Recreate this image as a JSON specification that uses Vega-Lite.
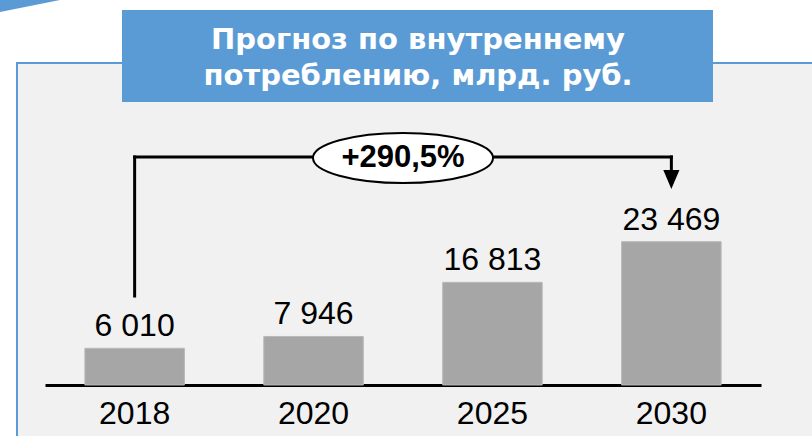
{
  "$schema": "https://vega.github.io/schema/vega-lite/v6.json",
  "width": 795,
  "height": 373,
  "autosize": "none",
  "padding": {"left": 17, "top": 63, "right": 0, "bottom": 0},
  "background": "#ffffff",
  "config": {
    "view": {"fill": "#f1f1f1", "stroke": null},
    "font": "Liberation Sans"
  },
  "datasets": {
    "main": [
      {"year": "2018", "value": 6010, "label": "6 010"},
      {"year": "2020", "value": 7946, "label": "7 946"},
      {"year": "2025", "value": 16813, "label": "16 813"},
      {"year": "2030", "value": 23469, "label": "23 469"}
    ],
    "growth": [
      {"from": "2018", "to": "2030", "label": "+290,5%"}
    ],
    "heading": [
      {"text": "Прогноз по внутреннему\nпотреблению, млрд. руб."}
    ]
  },
  "layer": [
    {
      "data": {"name": "heading"},
      "mark": {"type": "rule", "color": "#5b9bd5", "strokeWidth": 2},
      "encoding": {"x": {"value": -1}, "x2": {"value": 800}, "y": {"value": 0}}
    },
    {
      "data": {"name": "heading"},
      "mark": {"type": "rule", "color": "#5b9bd5", "strokeWidth": 2},
      "encoding": {"x": {"value": 0}, "y": {"value": -1}, "y2": {"value": 380}}
    },
    {
      "data": {"name": "heading"},
      "mark": {"type": "point", "shape": "M-1,-0.2L1,-0.2L-1,0.2Z", "filled": true, "color": "#5b9bd5", "size": 3600, "opacity": 1, "strokeWidth": 0},
      "encoding": {"x": {"value": 13}, "y": {"value": -57}}
    },
    {
      "data": {"name": "heading"},
      "mark": {"type": "rect", "color": "#5b9bd5"},
      "encoding": {"x": {"value": 105}, "x2": {"value": 696}, "y": {"value": -53}, "y2": {"value": 39}}
    },
    {
      "data": {"name": "heading"},
      "mark": {"type": "text", "font": "DejaVu Sans", "fontWeight": "bold", "fontSize": 29, "color": "#ffffff", "align": "center", "baseline": "alphabetic", "lineBreak": "\n", "lineHeight": 35.7},
      "encoding": {"text": {"field": "text"}, "x": {"value": 401}, "y": {"value": -13.7}}
    },
    {
      "data": {"name": "main"},
      "mark": {"type": "bar", "color": "#a6a6a6", "stroke": "#b8b8b8", "strokeWidth": 1},
      "encoding": {
        "x": {
          "field": "year", "type": "nominal", "sort": null,
          "scale": {"range": [28, 744], "paddingInner": 0.444, "paddingOuter": 0.223},
          "axis": {"title": null, "labelAngle": 0, "labelFontSize": 32, "labelFont": "Liberation Sans", "labelColor": "#000000", "ticks": false, "domainColor": "#000000", "domainWidth": 3, "labelPadding": 13, "offset": -51, "grid": false}
        },
        "y": {
          "field": "value", "type": "quantitative",
          "scale": {"domain": [0, 52735], "range": [322, 0], "nice": false, "zero": true},
          "axis": null
        }
      }
    },
    {
      "data": {"name": "main"},
      "mark": {"type": "text", "fontSize": 32, "font": "Liberation Sans", "color": "#000000", "baseline": "alphabetic", "dy": -12},
      "encoding": {
        "x": {"field": "year", "type": "nominal", "sort": null},
        "y": {"field": "value", "type": "quantitative"},
        "text": {"field": "label"}
      }
    },
    {
      "data": {"name": "growth"},
      "mark": {"type": "rule", "color": "#000000", "strokeWidth": 3, "strokeCap": "square"},
      "encoding": {"x": {"field": "from", "type": "nominal"}, "y": {"value": 94}, "y2": {"value": 233}}
    },
    {
      "data": {"name": "growth"},
      "mark": {"type": "rule", "color": "#000000", "strokeWidth": 3, "strokeCap": "square"},
      "encoding": {"x": {"field": "from", "type": "nominal"}, "x2": {"field": "to"}, "y": {"value": 94}}
    },
    {
      "data": {"name": "growth"},
      "mark": {"type": "rule", "color": "#000000", "strokeWidth": 3, "strokeCap": "square"},
      "encoding": {"x": {"field": "to", "type": "nominal"}, "y": {"value": 94}, "y2": {"value": 108}}
    },
    {
      "data": {"name": "growth"},
      "mark": {"type": "point", "shape": "M-0.85,-1L0.85,-1L0,1Z", "filled": true, "color": "#000000", "size": 361, "opacity": 1, "strokeWidth": 0},
      "encoding": {"x": {"field": "to", "type": "nominal"}, "y": {"value": 116.5}}
    },
    {
      "data": {"name": "growth"},
      "mark": {"type": "point", "shape": "M-1,0A1,0.278,0,1,0,1,0A1,0.278,0,1,0,-1,0Z", "filled": true, "fill": "#ffffff", "stroke": "#000000", "strokeWidth": 2, "size": 32400, "opacity": 1, "fillOpacity": 1, "strokeOpacity": 1},
      "encoding": {"x": {"value": 386}, "y": {"value": 95}}
    },
    {
      "data": {"name": "growth"},
      "mark": {"type": "text", "font": "Liberation Sans", "fontWeight": "bold", "fontSize": 31, "color": "#000000", "align": "center", "baseline": "alphabetic"},
      "encoding": {"x": {"value": 386}, "y": {"value": 104}, "text": {"field": "label"}}
    }
  ]
}
